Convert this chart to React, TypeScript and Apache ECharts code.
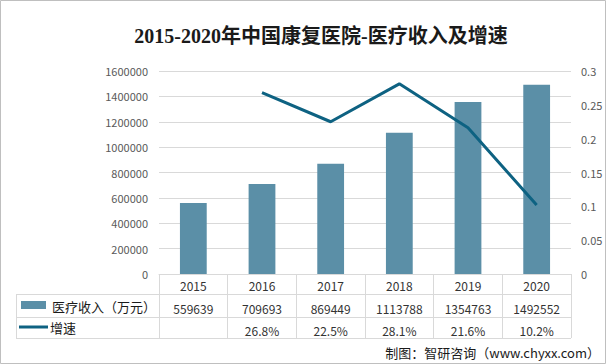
import React, { useEffect, useRef } from "react";
import * as echarts from "echarts";

const years = ["2015", "2016", "2017", "2018", "2019", "2020"];
const income = [559639, 709693, 869449, 1113788, 1354763, 1492552];
const growth: (number | null)[] = [null, 0.268, 0.225, 0.281, 0.216, 0.102];
const leftTicks = { min: 0, max: 1600000, interval: 200000 };
const rightTicks = { min: 0, max: 0.3, interval: 0.05 };
const title = "2015-2020年中国康复医院-医疗收入及增速";
const barName = "医疗收入（万元）";
const lineName = "增速";
const source = "制图：智研咨询（www.chyxx.com）";

const BAR_COLOR = "#5B8FA7";
const LINE_COLOR = "#0E6282";
const GRID_COLOR = "#D9D9D9";
const SANS = "'Noto Sans CJK SC', 'Noto Sans', sans-serif";

export default function App() {
  const ref = useRef<HTMLDivElement>(null);
  useEffect(() => {
    if (!ref.current) return;
    const chart = echarts.init(ref.current, null, { renderer: "svg" });
    const incomeLabels = income.map((v) => String(v));
    const growthLabels = growth.map((v) => (v == null ? "" : (v * 100).toFixed(1) + "%"));
    const hLine = (y: number, x1: number, x2: number) => ({
      type: "line",
      shape: { x1, y1: y, x2, y2: y },
      style: { stroke: GRID_COLOR, lineWidth: 1 },
      silent: true,
    });
    chart.setOption({
      animation: false,
      backgroundColor: "#fff",
      title: {
        text: title,
        left: 316,
        top: 21,
        textAlign: "center",
        textStyle: {
          fontFamily: "'Liberation Serif', 'Noto Sans CJK SC', serif",
          fontSize: 20,
          fontWeight: "bold",
          color: "#1a1a1a",
        },
      },
      grid: { left: 159, right: 35, top: 71, bottom: 90, containLabel: false },
      xAxis: [
        {
          type: "category",
          data: years,
          position: "bottom",
          axisLine: { lineStyle: { color: GRID_COLOR } },
          axisTick: { show: true, interval: 0, length: 64, lineStyle: { color: GRID_COLOR } },
          axisLabel: { interval: 0, margin: 5, fontSize: 12, color: "#333", fontFamily: SANS },
        },
        {
          type: "category",
          data: incomeLabels,
          position: "bottom",
          offset: 22,
          axisLine: { show: false },
          axisTick: { show: false },
          axisLabel: { interval: 0, margin: 6, fontSize: 12, color: "#333", fontFamily: SANS },
        },
        {
          type: "category",
          data: growthLabels,
          position: "bottom",
          offset: 44,
          axisLine: { show: false },
          axisTick: { show: false },
          axisLabel: { interval: 0, margin: 6, fontSize: 12, color: "#333", fontFamily: SANS },
        },
      ],
      yAxis: [
        {
          type: "value",
          ...leftTicks,
          axisLine: { show: false },
          axisTick: { show: false },
          splitLine: { lineStyle: { color: GRID_COLOR } },
          axisLabel: {
            margin: 11,
            fontSize: 11,
            color: "#595959",
            fontFamily: SANS,
            formatter: (v: number) => String(v),
          },
        },
        {
          type: "value",
          ...rightTicks,
          position: "right",
          axisLine: { show: false },
          axisTick: { show: false },
          splitLine: { show: false },
          axisLabel: {
            margin: 10,
            fontSize: 11,
            color: "#595959",
            fontFamily: SANS,
            formatter: (v: number) => String(Math.round(v * 100) / 100),
          },
        },
      ],
      series: [
        {
          name: barName,
          type: "bar",
          data: income,
          xAxisIndex: 0,
          yAxisIndex: 0,
          barWidth: "39%",
          itemStyle: { color: BAR_COLOR },
        },
        {
          name: lineName,
          type: "line",
          data: growth,
          xAxisIndex: 0,
          yAxisIndex: 1,
          showSymbol: false,
          symbol: "none",
          lineStyle: { color: LINE_COLOR, width: 3 },
          itemStyle: { color: LINE_COLOR },
        },
      ],
      graphic: [
        {
          type: "rect",
          shape: { x: 0.5, y: 0.5, width: 605, height: 363 },
          style: { fill: "none", stroke: "#BFBFBF", lineWidth: 1 },
          silent: true,
        },
        hLine(294.5, 16, 571),
        hLine(317.5, 16, 571),
        hLine(338.5, 16, 571),
        {
          type: "line",
          shape: { x1: 16.5, y1: 294, x2: 16.5, y2: 339 },
          style: { stroke: GRID_COLOR, lineWidth: 1 },
          silent: true,
        },
        {
          type: "rect",
          shape: { x: 21, y: 301, width: 25, height: 8 },
          style: { fill: BAR_COLOR },
        },
        {
          type: "text",
          x: 52,
          y: 306,
          style: {
            text: barName,
            fontSize: 13,
            fontFamily: SANS,
            fill: "#1a1a1a",
            verticalAlign: "middle",
          },
        },
        {
          type: "line",
          shape: { x1: 19, y1: 327, x2: 48, y2: 327 },
          style: { stroke: LINE_COLOR, lineWidth: 3 },
        },
        {
          type: "text",
          x: 50,
          y: 327,
          style: {
            text: lineName,
            fontSize: 13,
            fontFamily: SANS,
            fill: "#1a1a1a",
            verticalAlign: "middle",
          },
        },
        {
          type: "text",
          x: 600,
          y: 352,
          style: {
            text: source,
            fontSize: 13,
            fontFamily: SANS,
            fill: "#1a1a1a",
            align: "right",
            verticalAlign: "middle",
          },
        },
      ],
    });
    return () => chart.dispose();
  }, []);
  return (
    <div
      ref={ref}
      style={{ position: "fixed", left: 0, top: 0, width: 606, height: 364 }}
    />
  );
}
